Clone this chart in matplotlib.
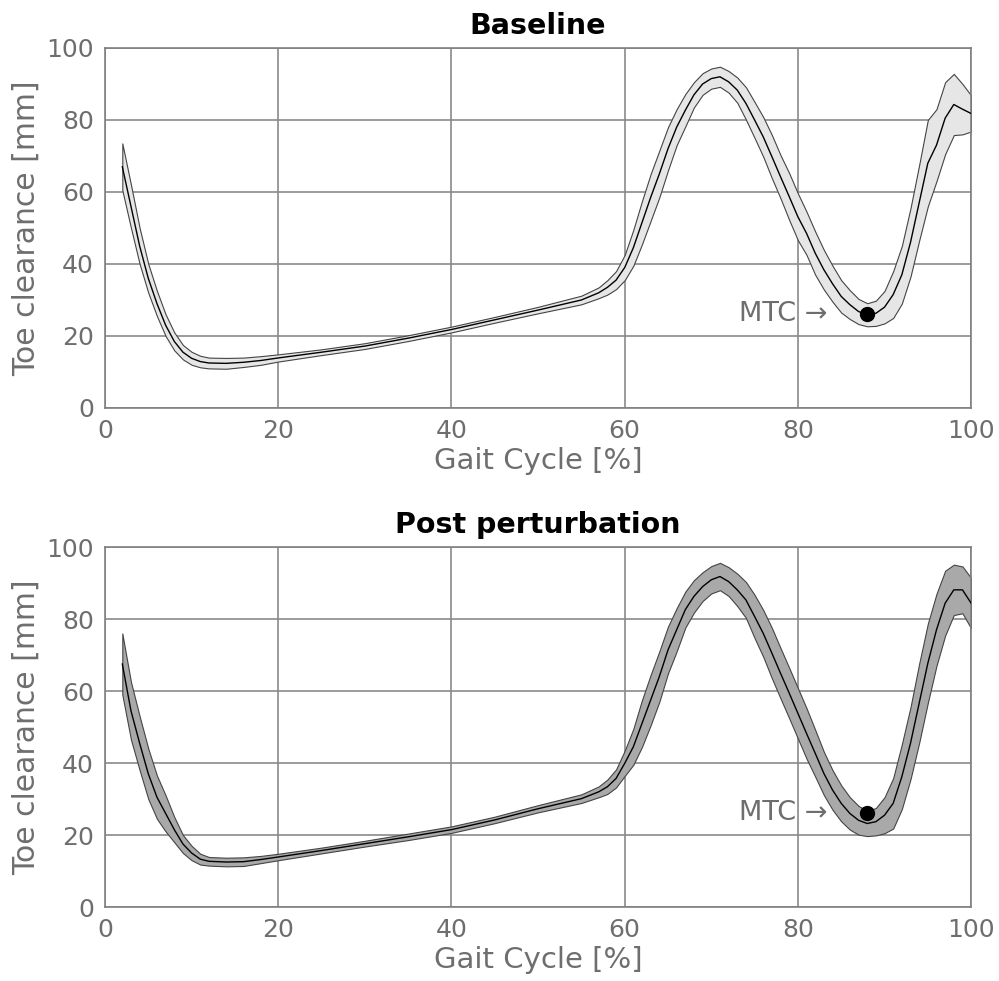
import numpy as np
import matplotlib
matplotlib.use('Agg')
import matplotlib.pyplot as plt

# gait cycle positions [%]
gait = [2, 3, 4, 5, 6, 7, 8, 9, 10, 11, 12, 14, 16, 18, 20, 25, 30, 35, 40, 45, 50,
        55, 57, 58, 59, 60, 61, 62, 63, 64, 65, 66, 67, 68, 69, 70, 71, 72, 73, 74,
        75, 76, 77, 78, 79, 80, 81, 82, 83, 84, 85, 86, 87, 88, 89, 90, 91, 92, 93,
        94, 95, 96, 97, 98, 99, 100]

# Baseline: mean toe clearance and band half-width [mm]
base_mean = [67, 56, 45, 36, 29, 23, 18.5, 15.5, 13.8, 12.9, 12.5, 12.4, 12.7, 13.2, 13.9,
             15.5, 17.2, 19.4, 21.8, 24.5, 27.2, 30, 32, 33.5, 35.5, 39, 44.5, 51.5, 58.5,
             65, 72, 78, 82.7, 87, 90, 91.5, 92, 90.6, 88.3, 84.6, 80, 75.3, 69.8, 64.2,
             58.7, 53.1, 48.5, 43, 38.4, 34.5, 31, 28.7, 26.8, 25.9, 26.3, 28, 31.5, 37,
             46, 57, 68, 73, 80.5, 84.3, 83, 81.8]
base_sd = [6.5, 6, 5, 4, 3.5, 3, 2.5, 2, 1.8, 1.6, 1.5, 1.5, 1.3, 1.2, 1, 0.8, 0.8, 0.8,
           0.8, 0.8, 0.9, 1.2, 1.5, 2, 2.5, 3.5, 5, 6, 6.5, 6.5, 6, 5, 4.5, 3.5, 3, 2.8,
           2.8, 3, 3.5, 4.5, 5, 5.5, 6, 6, 6.5, 6.5, 6, 6, 5.5, 5, 4.5, 4, 3.5, 3.2, 3.5,
           4.5, 6.5, 8, 9.5, 10.5, 12, 10, 10, 8.5, 7, 5]

# Post perturbation
post_mean = [67.5, 54.5, 45.5, 37, 30.5, 26, 21.5, 17.5, 15, 13.3, 12.7, 12.5, 12.6, 13.2,
             13.9, 15.7, 17.6, 19.5, 21.5, 24.2, 27.3, 30.1, 32, 33.4, 35.7, 39.9, 44.5,
             51, 57.5, 64, 71.4, 77, 82.6, 86.3, 89, 90.9, 91.8, 90.4, 88.1, 85.3, 80.7,
             76, 70.5, 64.9, 59.4, 53.8, 48.2, 42.7, 37.1, 32.5, 28.8, 26, 24.1, 23.2,
             23.7, 25.5, 28.8, 36.2, 45.5, 56.6, 67.7, 77, 84.4, 88.1, 88.1, 84.4]
post_sd = [8.5, 8, 7.5, 7, 6, 5, 3.5, 2.5, 2, 1.5, 1.2, 1.2, 1.2, 1, 0.9, 0.8, 0.8, 0.9,
           0.9, 0.9, 1, 1.2, 1.5, 2, 2.5, 3.5, 5, 6.5, 7, 7, 6.5, 6, 5, 4.5, 4, 3.8, 3.8,
           4, 4.5, 5, 6, 6.5, 7, 7, 7, 7, 7, 6.5, 6, 5.5, 5, 4.5, 4, 3.5, 3.8, 5, 7, 9,
           10, 11, 11, 10, 9, 7, 6.5, 7]

# minimum toe clearance point
mtc_x = 88
mtc_y = [26, 26]

titles = ['Baseline', 'Post perturbation']
fills = ['#e6e6e6', '#a9a9a9']
means = [base_mean, post_mean]
sds = [base_sd, post_sd]

txt_col = '#6e6e6e'
fig = plt.figure(figsize=(9.99, 9.81), dpi=100)
positions = [[0.1051, 0.5841, 0.867, 0.367], [0.1051, 0.0754, 0.867, 0.367]]

x = np.array(gait)
for i in range(2):
    ax = fig.add_axes(positions[i])
    m = np.array(means[i])
    s = np.array(sds[i])
    ax.fill_between(x, m - s, m + s, facecolor=fills[i], edgecolor='#444444', lw=0.8, zorder=2)
    ax.plot(x, m, color='black', lw=1.0, zorder=3)
    ax.plot(mtc_x, mtc_y[i], 'o', color='black', markersize=10, zorder=4)
    ax.text(mtc_x - 4.6, mtc_y[i], 'MTC \u2192', ha='right', va='center',
            fontsize=19.5, color=txt_col, zorder=5)
    ax.set_xlim(0, 100)
    ax.set_ylim(0, 100)
    ax.set_xticks([0, 20, 40, 60, 80, 100])
    ax.set_yticks([0, 20, 40, 60, 80, 100])
    ax.grid(True, color='#8a8a8a', lw=1.2)
    ax.set_axisbelow(True)
    ax.tick_params(length=0, labelsize=18, labelcolor=txt_col, pad=8)
    for sp in ax.spines.values():
        sp.set_color('#808080')
        sp.set_linewidth(1.2)
    ax.set_xlabel('Gait Cycle [%]', fontsize=21, color=txt_col, labelpad=3)
    ax.set_ylabel('Toe clearance [mm]', fontsize=21.5, color=txt_col, labelpad=4)
    ax.set_title(titles[i], fontsize=20.5, fontweight='bold', color='black', pad=10)

fig.savefig('out.png', dpi=100)
